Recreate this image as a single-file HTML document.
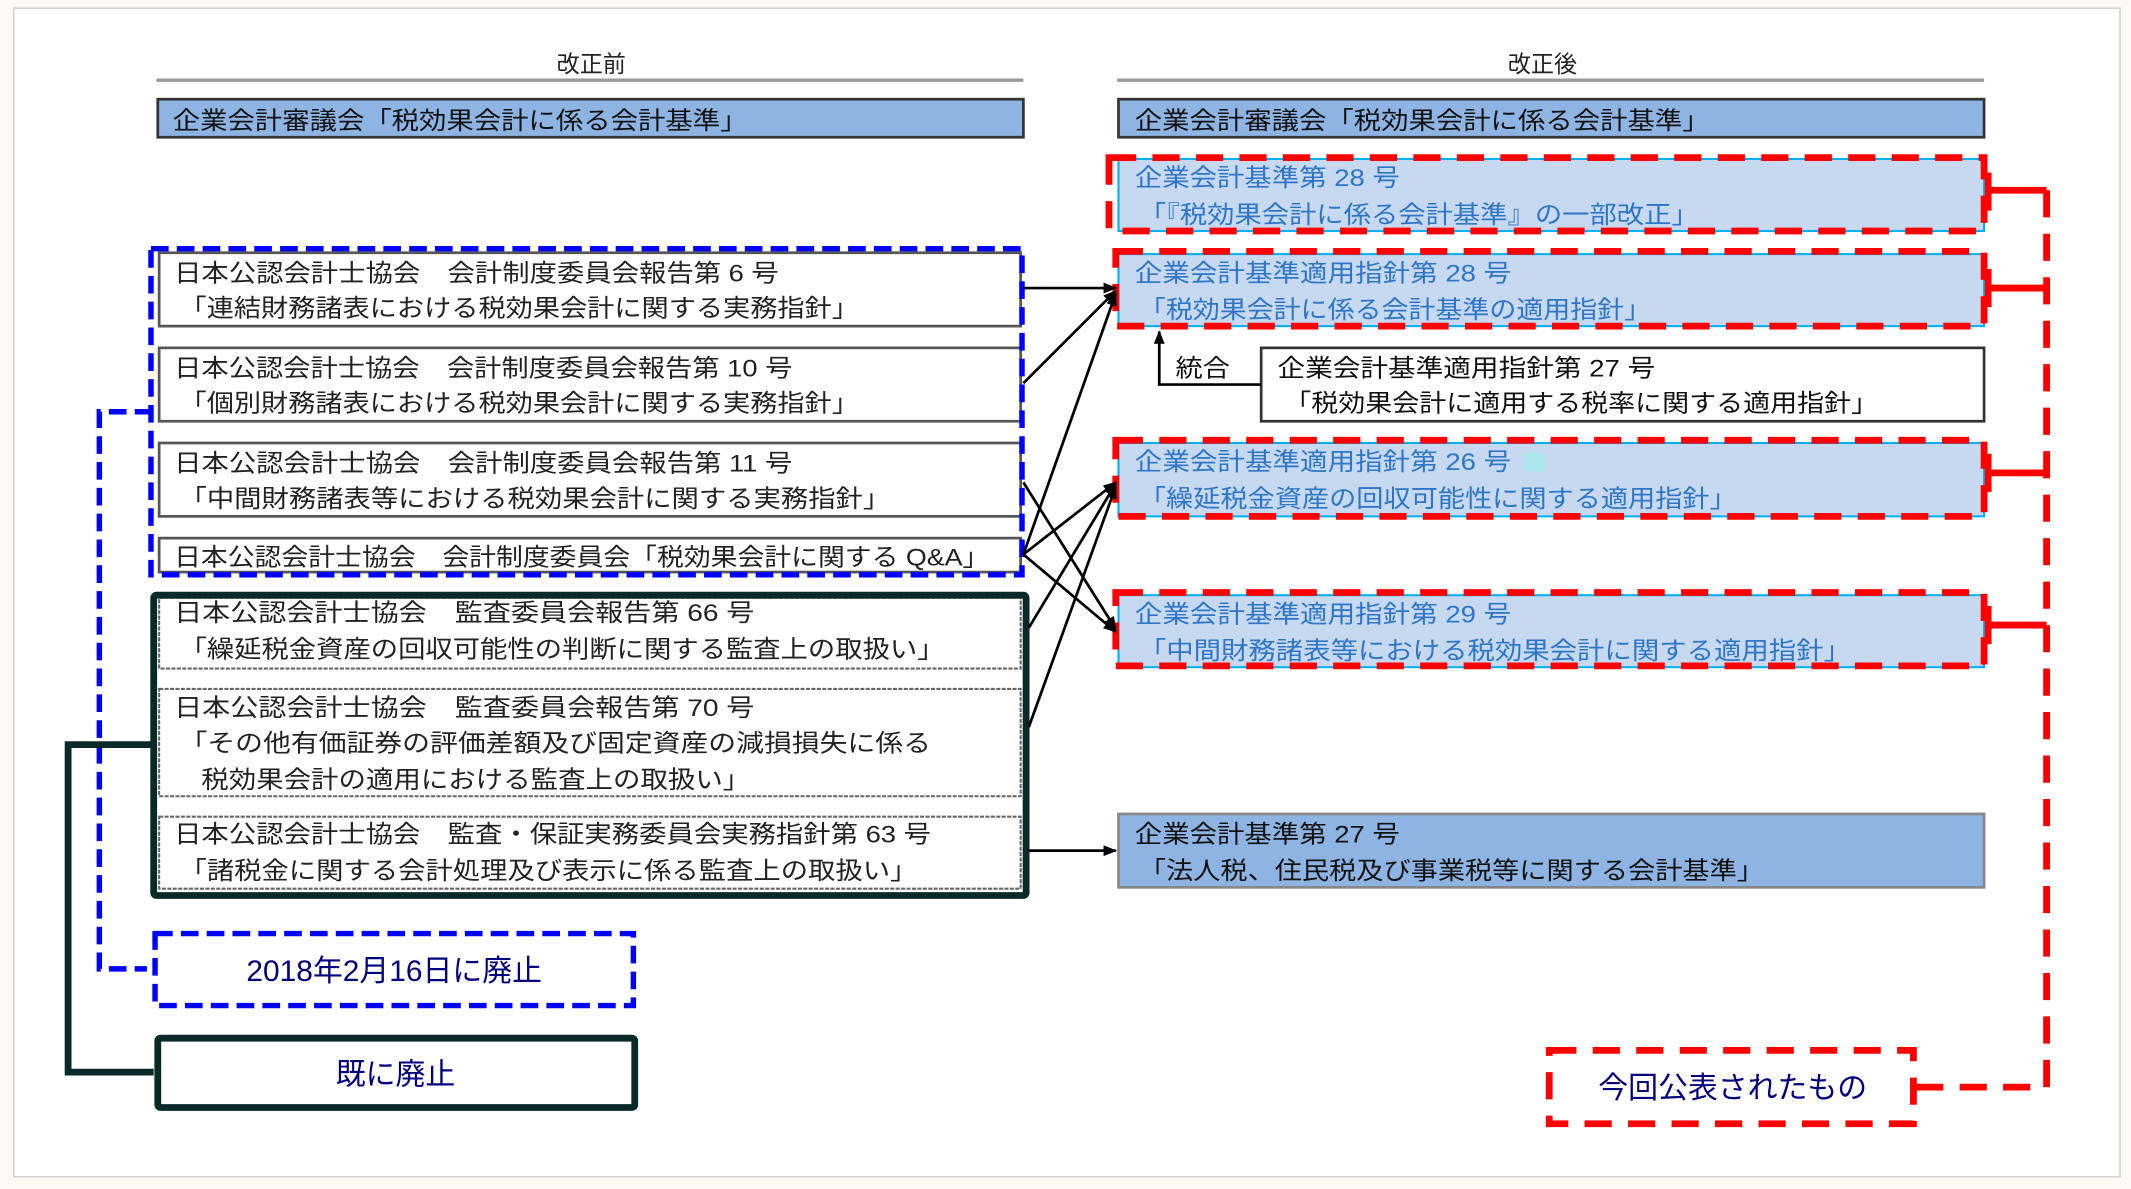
<!DOCTYPE html>
<html><head><meta charset="utf-8"><style>
html,body{margin:0;padding:0;background:#faf9f4;}
svg{display:block;}
text{font-family:"Liberation Sans","Noto Sans CJK JP",sans-serif;}
</style></head><body>
<svg width="2131" height="1189" viewBox="0 0 1568 875" xmlns="http://www.w3.org/2000/svg">
<defs>
<marker id="ah" markerWidth="10" markerHeight="10" refX="9" refY="5" orient="auto" markerUnits="userSpaceOnUse">
<path d="M0,1 L10,5 L0,9 z" fill="#000"/></marker>
</defs>
<rect x="0" y="0" width="1568" height="875" fill="#faf9f4"/>
<rect x="10" y="6" width="1550" height="860" fill="#fff" stroke="#ccc" stroke-width="1"/>

<!-- headings -->
<text x="435" y="53" font-size="17" text-anchor="middle" fill="#222">改正前</text>
<line x1="115" y1="59" x2="753" y2="59" stroke="#999" stroke-width="2.5"/>
<text x="1135" y="53" font-size="17" text-anchor="middle" fill="#222">改正後</text>
<line x1="822" y1="59" x2="1460" y2="59" stroke="#999" stroke-width="2.5"/>

<rect x="116" y="73" width="637" height="28" fill="#8eb4e3" stroke="#333" stroke-width="2"/>
<text x="127" y="95" font-size="18" fill="#111" textLength="423" lengthAdjust="spacingAndGlyphs">企業会計審議会「税効果会計に係る会計基準」</text>
<rect x="823" y="73" width="637" height="28" fill="#8eb4e3" stroke="#333" stroke-width="2"/>
<text x="835" y="95" font-size="18" fill="#111" textLength="423" lengthAdjust="spacingAndGlyphs">企業会計審議会「税効果会計に係る会計基準」</text>

<!-- left boxes -->
<g fill="#fff" stroke="#555" stroke-width="2">
<rect x="117" y="186" width="634" height="54"/>
<rect x="117" y="256" width="634" height="54"/>
<rect x="117" y="326" width="634" height="54"/>
<rect x="117" y="396" width="634" height="25"/>
</g>
<g font-size="18" fill="#222">
<text x="128" y="207" textLength="445" lengthAdjust="spacingAndGlyphs">日本公認会計士協会　会計制度委員会報告第 6 号</text>
<text x="132" y="233" textLength="500" lengthAdjust="spacingAndGlyphs">「連結財務諸表における税効果会計に関する実務指針」</text>
<text x="128" y="277" textLength="455" lengthAdjust="spacingAndGlyphs">日本公認会計士協会　会計制度委員会報告第 10 号</text>
<text x="132" y="303" textLength="500" lengthAdjust="spacingAndGlyphs">「個別財務諸表における税効果会計に関する実務指針」</text>
<text x="128" y="347" textLength="455" lengthAdjust="spacingAndGlyphs">日本公認会計士協会　会計制度委員会報告第 11 号</text>
<text x="132" y="373" textLength="523" lengthAdjust="spacingAndGlyphs">「中間財務諸表等における税効果会計に関する実務指針」</text>
<text x="128" y="416" textLength="600" lengthAdjust="spacingAndGlyphs">日本公認会計士協会　会計制度委員会「税効果会計に関する Q&amp;A」</text>
</g>
<rect x="111" y="183" width="641" height="240" fill="none" stroke="#0000ff" stroke-width="4" stroke-dasharray="13 6"/>
<polyline points="112,303 73,303 73,713 108,713" fill="none" stroke="#0000ff" stroke-width="4" stroke-dasharray="13 6"/>

<!-- dark group -->
<g fill="#fff" stroke="#666" stroke-width="1.5" stroke-dasharray="3 1">
<rect x="117" y="440" width="634" height="52"/>
<rect x="117" y="507" width="634" height="79"/>
<rect x="117" y="601" width="634" height="53"/>
</g>
<rect x="113" y="438" width="642" height="221" fill="none" stroke="#0a2a2a" stroke-width="5" rx="2"/>
<g font-size="18" fill="#222">
<text x="128" y="457" textLength="427" lengthAdjust="spacingAndGlyphs">日本公認会計士協会　監査委員会報告第 66 号</text>
<text x="132" y="484" textLength="563" lengthAdjust="spacingAndGlyphs">「繰延税金資産の回収可能性の判断に関する監査上の取扱い」</text>
<text x="128" y="527" textLength="427" lengthAdjust="spacingAndGlyphs">日本公認会計士協会　監査委員会報告第 70 号</text>
<text x="132" y="553" textLength="553" lengthAdjust="spacingAndGlyphs">「その他有価証券の評価差額及び固定資産の減損損失に係る</text>
<text x="148" y="580" textLength="404" lengthAdjust="spacingAndGlyphs">税効果会計の適用における監査上の取扱い」</text>
<text x="128" y="620" textLength="557" lengthAdjust="spacingAndGlyphs">日本公認会計士協会　監査・保証実務委員会実務指針第 63 号</text>
<text x="132" y="647" textLength="543" lengthAdjust="spacingAndGlyphs">「諸税金に関する会計処理及び表示に係る監査上の取扱い」</text>
</g>
<polyline points="112,548 50,548 50,789 113,789" fill="none" stroke="#0a2a2a" stroke-width="5"/>

<!-- legend boxes -->
<rect x="114" y="687" width="352" height="53" fill="#fff" stroke="#0000ff" stroke-width="4" stroke-dasharray="13 6"/>
<text x="290" y="722" font-size="22" text-anchor="middle" fill="#000080">2018年2月16日に廃止</text>
<rect x="116" y="764" width="351" height="51" fill="#fff" stroke="#0a2a2a" stroke-width="5" rx="2"/>
<text x="291" y="798" font-size="22" text-anchor="middle" fill="#000080">既に廃止</text>

<!-- right boxes -->
<g fill="#c6d9f1" stroke="#00b0f0" stroke-width="1.5">
<rect x="823" y="117" width="637" height="53"/>
<rect x="823" y="187" width="637" height="53"/>
<rect x="823" y="326" width="637" height="54"/>
<rect x="823" y="438" width="637" height="53"/>
</g>
<rect x="928" y="256" width="532" height="54" fill="#fff" stroke="#333" stroke-width="2"/>
<rect x="823" y="599" width="637" height="54" fill="#8eb4e3" stroke="#888" stroke-width="2"/>
<rect x="1121" y="333" width="16" height="14" fill="#aee6ee"/>
<g font-size="18" fill="#2e75c6">
<text x="835" y="137" textLength="195" lengthAdjust="spacingAndGlyphs">企業会計基準第 28 号</text>
<text x="838" y="164" textLength="412" lengthAdjust="spacingAndGlyphs">「『税効果会計に係る会計基準』の一部改正」</text>
<text x="835" y="207" textLength="277" lengthAdjust="spacingAndGlyphs">企業会計基準適用指針第 28 号</text>
<text x="838" y="234" textLength="377" lengthAdjust="spacingAndGlyphs">「税効果会計に係る会計基準の適用指針」</text>
<text x="835" y="346" textLength="277" lengthAdjust="spacingAndGlyphs">企業会計基準適用指針第 26 号</text>
<text x="838" y="373" textLength="440" lengthAdjust="spacingAndGlyphs">「繰延税金資産の回収可能性に関する適用指針」</text>
<text x="835" y="458" textLength="277" lengthAdjust="spacingAndGlyphs">企業会計基準適用指針第 29 号</text>
<text x="838" y="485" textLength="524" lengthAdjust="spacingAndGlyphs">「中間財務諸表等における税効果会計に関する適用指針」</text>
</g>
<g font-size="18" fill="#111">
<text x="940" y="277" textLength="278" lengthAdjust="spacingAndGlyphs">企業会計基準適用指針第 27 号</text>
<text x="945" y="303" textLength="437" lengthAdjust="spacingAndGlyphs">「税効果会計に適用する税率に関する適用指針」</text>
<text x="835" y="620" textLength="195" lengthAdjust="spacingAndGlyphs">企業会計基準第 27 号</text>
<text x="838" y="647" textLength="460" lengthAdjust="spacingAndGlyphs">「法人税、住民税及び事業税等に関する会計基準」</text>
<text x="865" y="277" textLength="40" lengthAdjust="spacingAndGlyphs">統合</text>
</g>
<polyline points="928,283 853,283 853,244" fill="none" stroke="#000" stroke-width="2" marker-end="url(#ah)"/>

<!-- red dashed -->
<g fill="none" stroke="#ff0000" stroke-width="5" stroke-dasharray="20 12">
<rect x="816" y="116" width="644" height="54"/>
<rect x="821" y="185" width="639" height="55"/>
<rect x="821" y="324" width="639" height="56"/>
<rect x="821" y="436" width="639" height="54"/>
<line x1="1506" y1="140" x2="1506" y2="800"/>
<line x1="1410" y1="800" x2="1506" y2="800"/>
<rect x="1140" y="773" width="268" height="54"/>
</g>
<g stroke="#ff0000" stroke-width="5">
<line x1="1463" y1="140" x2="1506" y2="140"/><line x1="1463" y1="127" x2="1463" y2="155"/>
<line x1="1463" y1="212" x2="1506" y2="212"/><line x1="1463" y1="198" x2="1463" y2="226"/>
<line x1="1463" y1="348" x2="1506" y2="348"/><line x1="1463" y1="334" x2="1463" y2="362"/>
<line x1="1463" y1="460" x2="1506" y2="460"/><line x1="1463" y1="446" x2="1463" y2="474"/>
</g>
<text x="1275" y="808" font-size="22" text-anchor="middle" fill="#000080">今回公表されたもの</text>

<!-- arrows -->
<g stroke="#000" stroke-width="2" fill="none" marker-end="url(#ah)">
<line x1="753" y1="212" x2="821" y2="212"/>
<line x1="753" y1="282" x2="821" y2="214"/>
<line x1="753" y1="408" x2="821" y2="216"/>
<line x1="753" y1="355" x2="821" y2="463"/>
<line x1="753" y1="408" x2="821" y2="465"/>
<line x1="753" y1="408" x2="821" y2="355"/>
<line x1="757" y1="462" x2="821" y2="356"/>
<line x1="757" y1="535" x2="821" y2="358"/>
<line x1="757" y1="626" x2="821" y2="626"/>
</g>
</svg>
</body></html>
